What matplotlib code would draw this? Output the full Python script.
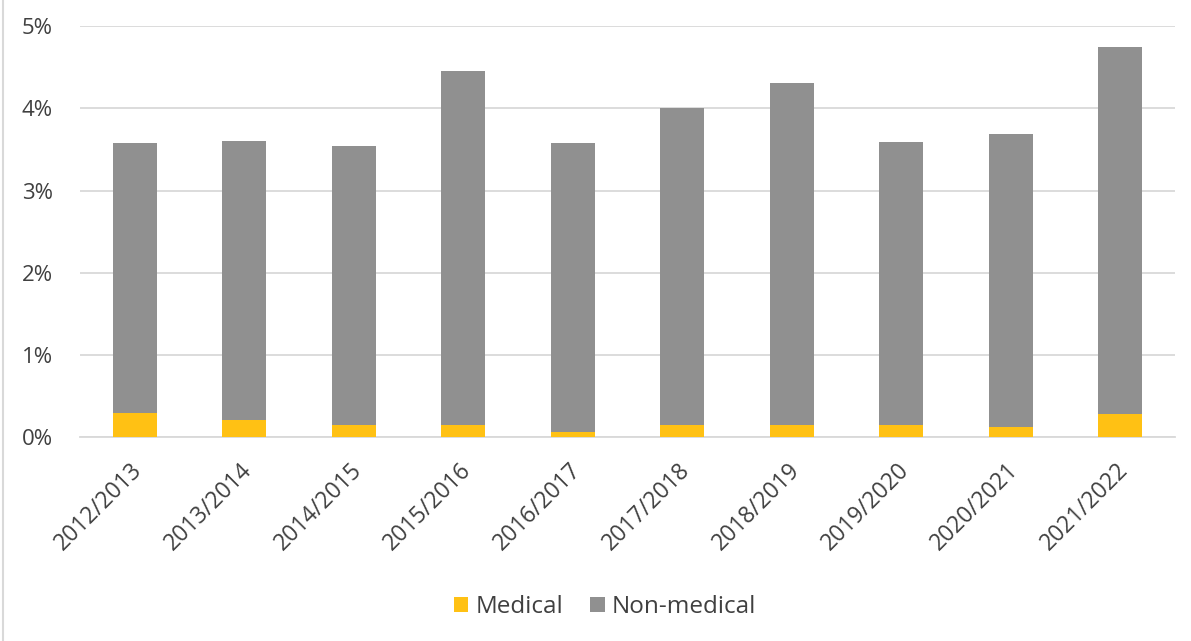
import matplotlib
matplotlib.use("Agg")
import matplotlib.pyplot as plt
from matplotlib.lines import Line2D
import matplotlib.transforms as mtransforms

years = ["2012/2013", "2013/2014", "2014/2015", "2015/2016", "2016/2017",
         "2017/2018", "2018/2019", "2019/2020", "2020/2021", "2021/2022"]
medical = [0.29, 0.21, 0.15, 0.15, 0.07, 0.15, 0.15, 0.15, 0.13, 0.28]
total = [3.58, 3.60, 3.54, 4.45, 3.58, 4.00, 4.31, 3.59, 3.69, 4.74]
non_medical = [t - m for t, m in zip(total, medical)]
y_ticks = [0, 1, 2, 3, 4, 5]

plt.rcParams['font.family'] = ['Open Sans', 'DejaVu Sans']
text_color = '#404040'
yellow = '#FFC114'
gray = '#909090'

fig = plt.figure(figsize=(11.91, 6.41), dpi=100)
ax = fig.add_axes([80/1191, 1-437.3/641, 1095/1191, (437.3-26)/641])

x = list(range(len(years)))
ax.bar(x, medical, width=0.40, color=yellow, label='Medical', zorder=3)
ax.bar(x, non_medical, width=0.40, bottom=medical, color=gray, label='Non-medical', zorder=3)

ax.set_xlim(-0.5, len(years) - 0.5)
ax.set_ylim(0, 5)
ax.set_yticks(y_ticks)
ax.set_yticklabels([f"{v}%" for v in y_ticks], fontsize=16, color=text_color)
ax.yaxis.grid(True, color='#D9D9D9', linewidth=1.3, zorder=0)
ax.set_axisbelow(True)
ax.tick_params(axis='y', length=0, pad=19.5)
ax.tick_params(axis='x', length=0, pad=15)
for s in ['top', 'right', 'left']:
    ax.spines[s].set_visible(False)
ax.spines['bottom'].set_color('#D9D9D9')
ax.spines['bottom'].set_linewidth(1.3)

ax.set_xticks(x)
ax.set_xticklabels(years, rotation=45, ha='right', rotation_mode='anchor',
                   fontsize=16.5, color=text_color)
offset = mtransforms.ScaledTranslation(-3/72, 0, fig.dpi_scale_trans)
for lab in ax.get_xticklabels():
    lab.set_transform(lab.get_transform() + offset)

leg = fig.legend(loc='center', bbox_to_anchor=(605/1191, 1-607/641), ncol=2,
                 frameon=False, fontsize=17.5, handlelength=0.6, handleheight=0.6,
                 handletextpad=0.3, columnspacing=1.1)
for t in leg.get_texts():
    t.set_color(text_color)

fig.add_artist(Line2D([3/1191, 3/1191], [0, 1], color='#D9D9D9', linewidth=1.5,
                      transform=fig.transFigure))

fig.savefig('out.png', dpi=100)
